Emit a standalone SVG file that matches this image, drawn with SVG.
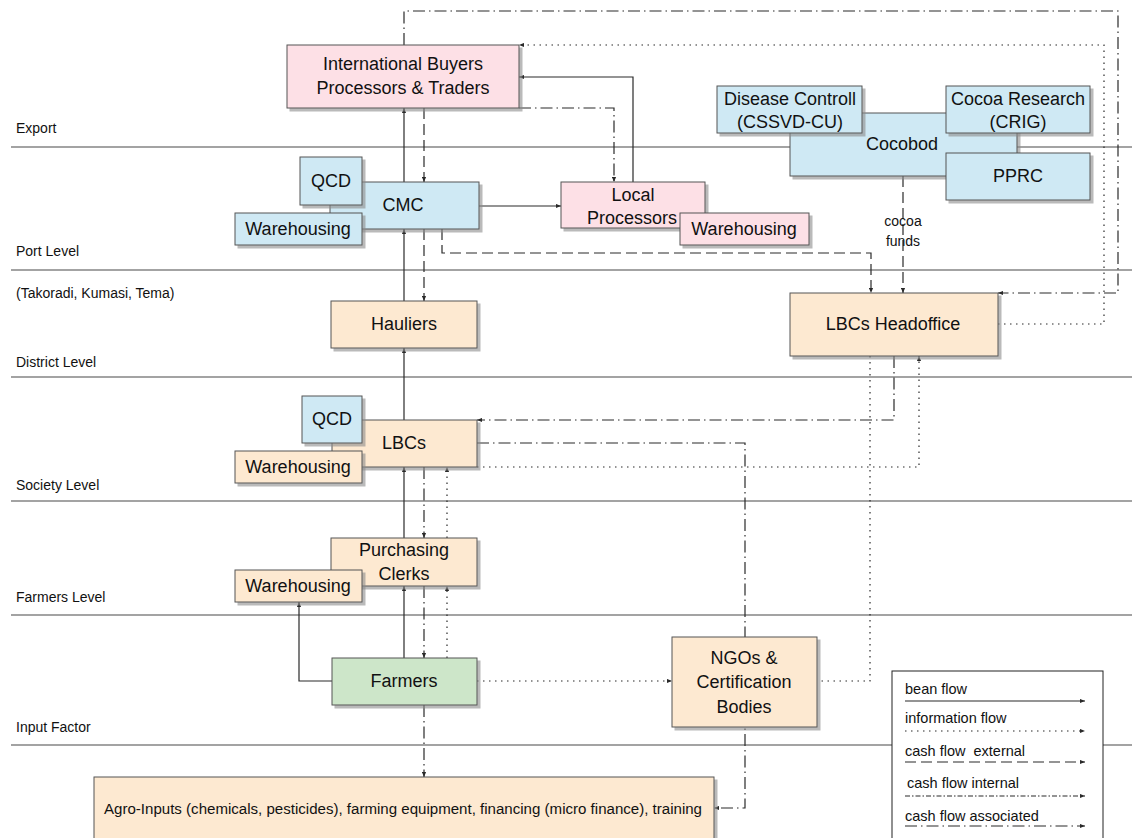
<svg xmlns="http://www.w3.org/2000/svg" width="1132" height="838" viewBox="0 0 1132 838">
  <defs>
    <style>
      .lvl { stroke: #858585; stroke-width: 1.6; fill: none; }
      .lvltxt { font-family: "Liberation Sans", Arial, sans-serif; font-size: 14px; fill: #111; }
      .box { stroke: #555; stroke-width: 1; filter: url(#shadow); }
      .pink { fill: #fde0e6; }
      .blue { fill: #cfe9f4; }
      .peach { fill: #fde9d1; }
      .green { fill: #cde6c9; }
      .t { font-family: "Liberation Sans", Arial, sans-serif; font-size: 18px; fill: #111; text-anchor: middle; }
      .small { font-size: 14px; }
      .c { fill: none; stroke: #2a2a2a; stroke-width: 1.2; }
      .info { stroke-dasharray: 1.5 4.5; }
      .ext { stroke-dasharray: 11 5; }
      .int { stroke-dasharray: 5 2 1.5 2; }
      .asc { stroke-dasharray: 12 4 1.5 4; }
      .lg { font-family: "Liberation Sans", Arial, sans-serif; font-size: 14.5px; fill: #111; }
    </style>
    <filter id="shadow" x="-10%" y="-10%" width="130%" height="140%">
      <feDropShadow dx="3" dy="3" stdDeviation="0.6" flood-color="#8c8c8c" flood-opacity="0.6"/>
    </filter>
    <marker id="ah" viewBox="0 0 6 6" refX="6" refY="3" markerWidth="5" markerHeight="5" orient="auto" markerUnits="userSpaceOnUse">
      <path d="M0,0.5 L6,3 L0,5.5 z" fill="#2a2a2a"/>
    </marker>
  </defs>

  <rect width="1132" height="838" fill="#fff"/>

  <!-- level bands -->
  <g id="levels">
    <line class="lvl" x1="11" y1="147" x2="1132" y2="147"/>
    <line class="lvl" x1="11" y1="270" x2="1132" y2="270"/>
    <line class="lvl" x1="11" y1="377" x2="1132" y2="377"/>
    <line class="lvl" x1="11" y1="501" x2="1132" y2="501"/>
    <line class="lvl" x1="11" y1="615" x2="1132" y2="615"/>
    <line class="lvl" x1="11" y1="745" x2="1132" y2="745"/>
    <text class="lvltxt" x="16" y="133">Export</text>
    <text class="lvltxt" x="16" y="256">Port Level</text>
    <text class="lvltxt" x="16" y="298">(Takoradi, Kumasi, Tema)</text>
    <text class="lvltxt" x="16" y="367">District Level</text>
    <text class="lvltxt" x="16" y="490">Society Level</text>
    <text class="lvltxt" x="16" y="602">Farmers Level</text>
    <text class="lvltxt" x="16" y="732">Input Factor</text>
  </g>

  <!-- flows -->
  <g id="connectors">
    <!-- bean flow -->
    <path class="c" d="M404,182 V108" marker-end="url(#ah)"/>
    <path class="c" d="M404,301 V229" marker-end="url(#ah)"/>
    <path class="c" d="M404,420 V348" marker-end="url(#ah)"/>
    <path class="c" d="M404,538 V467" marker-end="url(#ah)"/>
    <path class="c" d="M404,658 V586" marker-end="url(#ah)"/>
    <path class="c" d="M479,206 H561" marker-end="url(#ah)"/>
    <path class="c" d="M633,182 V77 H519" marker-end="url(#ah)"/>
    <path class="c" d="M332,681 H299 V602" marker-end="url(#ah)"/>
    <!-- cash flow external -->
    <path class="c ext" d="M424,108 V182" marker-end="url(#ah)"/>
    <path class="c ext" d="M424,229 V301" marker-end="url(#ah)"/>
    <path class="c ext" d="M442,229 V253 H871 V293" marker-end="url(#ah)"/>
    <path class="c ext" d="M903,176 V293" marker-end="url(#ah)"/>
    <!-- cash flow associated / internal -->
    <path class="c asc" d="M424,467 V538" marker-end="url(#ah)"/>
    <path class="c asc" d="M424,586 V658" marker-end="url(#ah)"/>
    <path class="c asc" d="M424,705 V777" marker-end="url(#ah)"/>
    <path class="c asc" d="M404,45 V11 H1118 V293 H998" marker-end="url(#ah)"/>
    <path class="c asc" d="M519,108 H614 V182" marker-end="url(#ah)"/>
    <path class="c asc" d="M894,356 V420 H477" marker-end="url(#ah)"/>
    <path class="c asc" d="M477,443 H745 V808 H714" marker-end="url(#ah)"/>
    <!-- information flow -->
    <path class="c info" d="M447,538 V467" marker-end="url(#ah)"/>
    <path class="c info" d="M447,658 V586" marker-end="url(#ah)"/>
    <path class="c info" d="M998,324 H1104 V45 H519" marker-end="url(#ah)"/>
    <path class="c info" d="M477,467 H919 V356" marker-end="url(#ah)"/>
    <path class="c info" d="M870,356 V681 H817"/>
    <path class="c info" d="M477,681 H672" marker-end="url(#ah)"/>
    <text class="t small" x="903" y="226">cocoa</text>
    <text class="t small" x="903" y="246">funds</text>
  </g>

  <!-- export -->
  <g id="intl-buyers">
    <rect class="box pink" x="287" y="45" width="232" height="63"/>
    <text class="t" x="403" y="70">International Buyers</text>
    <text class="t" x="403" y="94">Processors &amp; Traders</text>
  </g>

  <g id="cocobod">
    <rect class="box blue" x="790" y="113" width="227" height="63"/>
    <text class="t" x="902" y="150">Cocobod</text>
  </g>
  <g id="disease-control">
    <rect class="box blue" x="717" y="86" width="145" height="47"/>
    <text class="t" x="790" y="105">Disease Controll</text>
    <text class="t" x="790" y="128">(CSSVD-CU)</text>
  </g>
  <g id="cocoa-research">
    <rect class="box blue" x="946" y="86" width="144" height="47"/>
    <text class="t" x="1018" y="105">Cocoa Research</text>
    <text class="t" x="1018" y="128">(CRIG)</text>
  </g>
  <g id="pprc">
    <rect class="box blue" x="946" y="153" width="144" height="47"/>
    <text class="t" x="1018" y="182">PPRC</text>
  </g>

  <!-- port level -->
  <g id="cmc">
    <rect class="box blue" x="330" y="182" width="149" height="47"/>
    <text class="t" x="403" y="211">CMC</text>
  </g>
  <g id="qcd-port">
    <rect class="box blue" x="300" y="157" width="62" height="48"/>
    <text class="t" x="331" y="187">QCD</text>
  </g>
  <g id="warehousing-port">
    <rect class="box blue" x="235" y="213" width="127" height="32"/>
    <text class="t" x="298" y="235">Warehousing</text>
  </g>

  <g id="local-processors">
    <rect class="box pink" x="561" y="182" width="144" height="46"/>
    <text class="t" x="633" y="201">Local</text>
    <text class="t" x="632" y="224">Processors</text>
  </g>
  <g id="warehousing-lp">
    <rect class="box pink" x="680" y="213" width="129" height="32"/>
    <text class="t" x="744" y="235">Warehousing</text>
  </g>

  <!-- district level -->
  <g id="hauliers">
    <rect class="box peach" x="331" y="301" width="146" height="47"/>
    <text class="t" x="404" y="330">Hauliers</text>
  </g>
  <g id="lbc-headoffice">
    <rect class="box peach" x="790" y="293" width="208" height="63"/>
    <text class="t" x="893" y="330">LBCs Headoffice</text>
  </g>

  <!-- society level -->
  <g id="lbcs">
    <rect class="box peach" x="332" y="420" width="145" height="47"/>
    <text class="t" x="404" y="449">LBCs</text>
  </g>
  <g id="qcd-society">
    <rect class="box blue" x="302" y="396" width="60" height="47"/>
    <text class="t" x="332" y="425">QCD</text>
  </g>
  <g id="warehousing-society">
    <rect class="box peach" x="235" y="451" width="127" height="32"/>
    <text class="t" x="298" y="473">Warehousing</text>
  </g>

  <!-- farmers level -->
  <g id="purchasing-clerks">
    <rect class="box peach" x="331" y="538" width="146" height="48"/>
    <text class="t" x="404" y="556">Purchasing</text>
    <text class="t" x="404" y="580">Clerks</text>
  </g>
  <g id="warehousing-farmers">
    <rect class="box peach" x="235" y="570" width="127" height="32"/>
    <text class="t" x="298" y="592">Warehousing</text>
  </g>
  <g id="farmers">
    <rect class="box green" x="332" y="658" width="145" height="47"/>
    <text class="t" x="404" y="687">Farmers</text>
  </g>
  <g id="ngos">
    <rect class="box peach" x="672" y="637" width="145" height="90"/>
    <text class="t" x="744" y="664">NGOs &amp;</text>
    <text class="t" x="744" y="688">Certification</text>
    <text class="t" x="744" y="713">Bodies</text>
  </g>

  <!-- input factor -->
  <g id="agro-inputs">
    <rect class="box peach" x="94" y="777" width="620" height="80"/>
    <text class="t small" x="403" y="814" textLength="598" lengthAdjust="spacingAndGlyphs">Agro-Inputs (chemicals, pesticides), farming equipment, financing (micro finance), training</text>
  </g>

  <!-- key -->
  <g id="legend">
    <rect x="892" y="671" width="211" height="180" fill="#fff" stroke="#222" stroke-width="1"/>
    <text class="lg" x="905" y="694">bean flow</text>
    <path class="c" d="M905,701 H1085" marker-end="url(#ah)"/>
    <text class="lg" x="905" y="723">information flow</text>
    <path class="c info" d="M905,731 H1085" marker-end="url(#ah)"/>
    <text class="lg" x="905" y="756" xml:space="preserve">cash flow  external</text>
    <path class="c ext" d="M905,762 H1085" marker-end="url(#ah)"/>
    <text class="lg" x="907" y="788">cash flow internal</text>
    <path class="c int" d="M905,796 H1085" marker-end="url(#ah)"/>
    <text class="lg" x="905" y="821">cash flow associated</text>
    <path class="c asc" d="M905,826 H1085" marker-end="url(#ah)"/>
  </g>
</svg>
